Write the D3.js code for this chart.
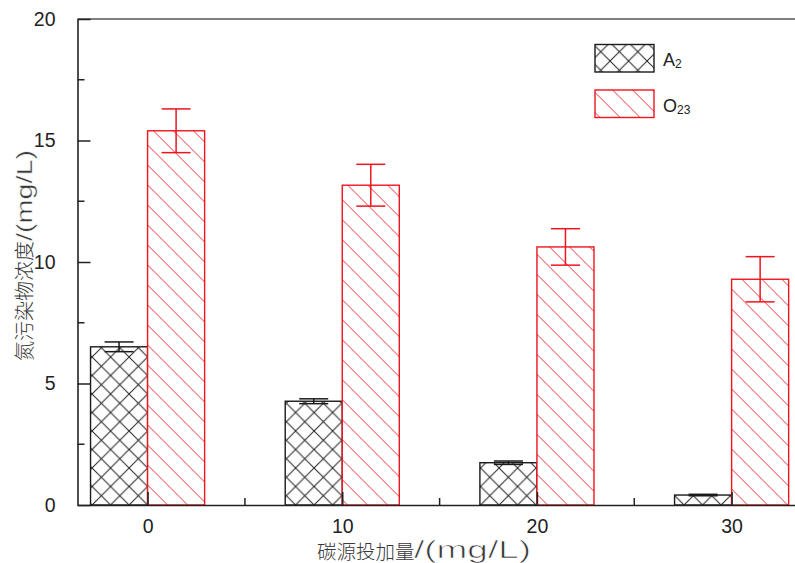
<!DOCTYPE html>
<html>
<head>
<meta charset="utf-8">
<script src="https://cdn.jsdelivr.net/npm/d3@7/dist/d3.min.js"></script>
<style>
  html, body { margin: 0; padding: 0; background: #fff; }
  svg { display: block; }
</style>
</head>
<body>
<svg id="chart" width="795" height="563"></svg>
<script>
// ---- data ----
const categories = [0, 10, 20, 30];
const seriesNames = ["A2", "O23"];
const a2Values = [6.51, 4.27, 1.74, 0.41];
const a2Errors = [0.2, 0.1, 0.07, 0.03];
const o23Values = [15.40, 13.16, 10.62, 9.29];
const o23Errors = [0.90, 0.86, 0.75, 0.93];
const yTicks = [0, 5, 10, 15, 20];
const yMinorTicks = [2.5, 7.5, 12.5, 17.5];
const xTicks = [0, 10, 20, 30];
const xMinorTicks = [5, 15, 25];
const xTitleCjk = "碳源投加量";
const xTitleUnit = "/(mg/L)";
const yTitleCjk = "氮污染物浓度";
const yTitleUnit = "/(mg/L)";

const svg = d3.select("#chart");
const red = "#f0141e";
const dark = "#1a1a1a";

const x = d3.scaleLinear().domain([-3.6, 33.6]).range([77.5, 801.7]);
const y = d3.scaleLinear().domain([0, 20]).range([505, 19]);
const barW = 2.93; // in data units

// patterns
const defs = svg.append("defs");
const cross = defs.append("pattern").attr("id", "cross")
  .attr("patternUnits", "userSpaceOnUse").attr("width", 18.5).attr("height", 18.5)
  .attr("x", x(0)).attr("y", y(0));
cross.append("path").attr("d", "M-3,-3 L21.5,21.5 M21.5,-3 L-3,21.5")
  .attr("stroke", "#222").attr("stroke-width", 1).attr("fill", "none");
const hatch = defs.append("pattern").attr("id", "hatch")
  .attr("patternUnits", "userSpaceOnUse").attr("width", 20).attr("height", 20)
  .attr("x", x(0)).attr("y", y(0));
hatch.append("path").attr("d", "M-5,-5 L25,25 M-5,15 L5,25 M15,-5 L25,5")
  .attr("stroke", "#f2343a").attr("stroke-width", 1).attr("fill", "none");

// top frame line
svg.append("line").attr("x1", x.range()[0]).attr("x2", 795)
  .attr("y1", y(20)).attr("y2", y(20))
  .attr("stroke", "#555").attr("stroke-width", 1.6);

// bars
const seriesData = [
  { name: seriesNames[0], values: a2Values, errors: a2Errors, offset: -barW, fill: "url(#cross)", stroke: dark },
  { name: seriesNames[1], values: o23Values, errors: o23Errors, offset: 0, fill: "url(#hatch)", stroke: red }
];

seriesData.forEach(s => {
  const g = svg.append("g");
  categories.forEach((c, i) => {
    const v = s.values[i];
    g.append("rect")
      .attr("x", x(c + s.offset))
      .attr("y", y(v))
      .attr("width", x(c + s.offset + barW) - x(c + s.offset))
      .attr("height", y(0) - y(v))
      .attr("fill", "#fff");
    g.append("rect")
      .attr("x", x(c + s.offset))
      .attr("y", y(v))
      .attr("width", x(c + s.offset + barW) - x(c + s.offset))
      .attr("height", y(0) - y(v))
      .attr("fill", s.fill)
      .attr("stroke", s.stroke)
      .attr("stroke-width", 1.4);
  });
});

// error bars
seriesData.forEach(s => {
  const g = svg.append("g").attr("stroke", s.stroke).attr("stroke-width", 1.5);
  categories.forEach((c, i) => {
    const cx = x(c + s.offset + barW / 2);
    const v = s.values[i], e = s.errors[i];
    const capHalf = 14.5;
    g.append("line").attr("x1", cx).attr("x2", cx).attr("y1", y(v - e)).attr("y2", y(v + e));
    g.append("line").attr("x1", cx - capHalf).attr("x2", cx + capHalf).attr("y1", y(v + e)).attr("y2", y(v + e));
    g.append("line").attr("x1", cx - capHalf).attr("x2", cx + capHalf).attr("y1", y(v - e)).attr("y2", y(v - e));
  });
});

// axes
const axisColor = "#222";
const yAxis = d3.axisLeft(y).tickValues(yTicks).tickSizeInner(-13).tickSizeOuter(0).tickPadding(22);
const yAxisG = svg.append("g").attr("transform", `translate(${x.range()[0]},0)`).call(yAxis);
yAxisG.select(".domain").attr("stroke", axisColor).attr("stroke-width", 1.6);
yAxisG.selectAll(".tick line").attr("stroke", axisColor).attr("stroke-width", 1.5);
yAxisG.selectAll(".tick text").attr("font-family", "'Liberation Sans', Arial, sans-serif")
  .attr("font-size", 19.5).attr("fill", "#222");
yAxisG.selectAll(".ymin").data(yMinorTicks).enter().append("line")
  .attr("x1", 0).attr("x2", 7).attr("y1", d => y(d)).attr("y2", d => y(d))
  .attr("stroke", axisColor).attr("stroke-width", 1.5);

const xAxis = d3.axisBottom(x).tickValues(xTicks).tickSizeInner(-13).tickSizeOuter(0).tickPadding(14);
const xAxisG = svg.append("g").attr("transform", `translate(0,${y(0)})`).call(xAxis);
xAxisG.select(".domain").attr("stroke", axisColor).attr("stroke-width", 1.6);
xAxisG.selectAll(".tick line").attr("stroke", axisColor).attr("stroke-width", 1.5);
xAxisG.selectAll(".tick text").attr("font-family", "'Liberation Sans', Arial, sans-serif")
  .attr("font-size", 19.5).attr("fill", "#222");
xAxisG.selectAll(".xmin").data(xMinorTicks).enter().append("line")
  .attr("x1", d => x(d)).attr("x2", d => x(d)).attr("y1", 0).attr("y2", -7)
  .attr("stroke", axisColor).attr("stroke-width", 1.5);

// axis titles
const cjkFont = "'Noto Sans CJK SC', sans-serif";
const latFont = "'Liberation Sans', Arial, sans-serif";
const xt = svg.append("g").attr("fill", "#383838");
xt.append("text").attr("x", 317).attr("y", 558.5).attr("font-family", cjkFont)
  .attr("font-weight", 300).attr("font-size", 19.5).text(xTitleCjk);
xt.append("text").attr("x", 414).attr("y", 558).attr("font-family", latFont)
  .attr("font-size", 23).attr("textLength", 117).attr("lengthAdjust", "spacingAndGlyphs")
  .attr("stroke", "#fff").attr("stroke-width", 0.6)
  .text(xTitleUnit);

const yt = svg.append("g").attr("fill", "#383838").attr("transform", "translate(31.5,361) rotate(-90)");
yt.append("text").attr("x", 0).attr("y", 0).attr("font-family", cjkFont)
  .attr("font-weight", 300).attr("font-size", 20).text(yTitleCjk);
yt.append("text").attr("x", 120).attr("y", 0).attr("font-family", latFont)
  .attr("font-size", 22).attr("textLength", 91).attr("lengthAdjust", "spacingAndGlyphs")
  .attr("stroke", "#fff").attr("stroke-width", 0.4)
  .text(yTitleUnit);

// legend
const legend = svg.append("g");
const legendItems = [
  { main: "A", sub: "2", fill: "url(#cross)", stroke: dark, y: 44.5 },
  { main: "O", sub: "23", fill: "url(#hatch)", stroke: red, y: 90 }
];
legendItems.forEach((d, i) => {
  legend.append("rect").attr("x", 595).attr("y", d.y).attr("width", 59).attr("height", 27.5)
    .attr("fill", d.fill).attr("stroke", d.stroke).attr("stroke-width", 1.4);
  const t = legend.append("text").attr("x", 663).attr("y", d.y + 21.5)
    .attr("font-family", latFont).attr("font-size", 18).attr("fill", "#222");
  t.append("tspan").text(d.main);
  t.append("tspan").attr("font-size", 12).attr("dy", 2).text(d.sub);
});
</script>
</body>
</html>
